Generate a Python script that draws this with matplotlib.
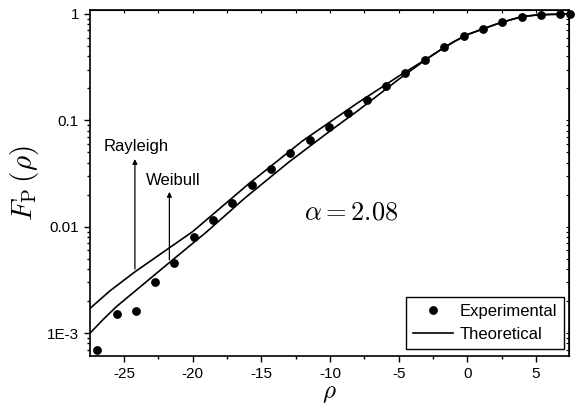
import matplotlib
matplotlib.use("Agg")
import matplotlib.pyplot as plt
from matplotlib.ticker import FixedLocator, LogLocator, FuncFormatter, MultipleLocator, NullFormatter

plt.rcParams['font.family'] = ['Liberation Sans', 'DejaVu Sans']
plt.rcParams['mathtext.fontset'] = 'cm'
plt.rcParams['axes.unicode_minus'] = False

# experimental points
rho_exp = [-26.94, -25.53, -24.12, -22.74, -21.34, -19.93, -18.52, -17.12, -15.69, -14.3,
           -12.9, -11.49, -10.08, -8.68, -7.27, -5.89, -4.51, -3.1, -1.67, -0.27,
           1.13, 2.54, 3.96, 5.39, 6.77, 7.46]
fp_exp = [7.0e-4, 1.51e-3, 1.60e-3, 3.0e-3, 4.58e-3, 8.1e-3, 0.0117, 0.0168, 0.0247, 0.0351,
          0.049, 0.0653, 0.0871, 0.1165, 0.156, 0.210, 0.277, 0.369, 0.486, 0.621,
          0.723, 0.841, 0.944, 0.98, 0.993, 1.0]

# theoretical curves (Rayleigh upper, Weibull lower)
rho_ray = [-27.47, -26, -24.2, -20, -16, -12, -8, -5, -3, -2, -1, 0, 1, 2, 3, 4, 5, 6, 7.4]
fp_ray = [1.71e-3, 2.51e-3, 3.77e-3, 9.0e-3, 0.0248, 0.0641, 0.1455, 0.260, 0.376, 0.456,
          0.547, 0.640, 0.713, 0.794, 0.871, 0.946, 0.977, 0.991, 0.998]
rho_wei = [-27.47, -26.5, -25.56, -22, -19, -16.2, -13, -10, -8, -5, -3, -2, -1, 0, 1, 2,
           3, 4, 5, 6, 7.4]
fp_wei = [1.0e-3, 1.35e-3, 1.77e-3, 4.27e-3, 8.91e-3, 0.0186, 0.0405, 0.0794, 0.1225, 0.243,
          0.374, 0.456, 0.547, 0.640, 0.713, 0.794, 0.871, 0.946, 0.977, 0.991, 0.998]

ytick_vals = [1e-3, 1e-2, 1e-1, 1]
ytick_labels = ['1E-3', '0.01', '0.1', '1']

fig = plt.figure(figsize=(5.78, 4.12), dpi=100)
ax = fig.add_axes([0.1557, 0.1359, 0.8287, 0.8398])

ax.plot(rho_exp, fp_exp, 'o', color='black', markersize=5.3, clip_on=False,
        label='Experimental', zorder=3)
ax.plot(rho_ray, fp_ray, '-', color='black', lw=1.2, label='Theoretical')
ax.plot(rho_wei, fp_wei, '-', color='black', lw=1.2)

ax.set_yscale('log')
ax.set_xlim(-27.47, 7.4)
ax.set_ylim(6.1e-4, 1.09)

ax.xaxis.set_major_locator(MultipleLocator(5))
ax.xaxis.set_minor_locator(MultipleLocator(2.5))
ax.yaxis.set_major_locator(FixedLocator(ytick_vals))
ax.yaxis.set_major_formatter(FuncFormatter(lambda v, p: dict(zip(ytick_vals, ytick_labels)).get(v, '')))
ax.yaxis.set_minor_locator(LogLocator(base=10, subs=range(2, 10)))
ax.yaxis.set_minor_formatter(NullFormatter())

ax.tick_params(which='both', direction='out', labelsize=11, width=1.0)
ax.tick_params(which='major', length=4.5)
ax.tick_params(which='minor', length=2.5)
for s in ax.spines.values():
    s.set_linewidth(1.2)

# small inward ticks on top and right
axt = ax.secondary_xaxis('top')
axt.xaxis.set_major_locator(MultipleLocator(5))
axt.xaxis.set_minor_locator(MultipleLocator(2.5))
axt.tick_params(which='both', direction='in', length=2, width=0.8, labeltop=False)
axr = ax.secondary_yaxis('right')
axr.yaxis.set_major_locator(FixedLocator(ytick_vals))
axr.yaxis.set_minor_locator(LogLocator(base=10, subs=range(2, 10)))
axr.yaxis.set_minor_formatter(NullFormatter())
axr.tick_params(which='both', direction='in', length=2, width=0.8, labelright=False)

ax.set_xlabel(r'$\rho$', fontsize=18, labelpad=0)
ax.set_ylabel(r'$F_{\mathrm{P}}\,(\rho)$', fontsize=21, labelpad=4)

ax.annotate('', xy=(-24.2, 0.046), xytext=(-24.2, 3.77e-3),
            arrowprops=dict(arrowstyle='-|>', color='black', lw=0.9, mutation_scale=7))
ax.text(-26.5, 0.0574, 'Rayleigh', fontsize=12, ha='left', va='center')
ax.annotate('', xy=(-21.69, 0.0226), xytext=(-21.69, 4.6e-3),
            arrowprops=dict(arrowstyle='-|>', color='black', lw=0.9, mutation_scale=7))
ax.text(-23.4, 0.0275, 'Weibull', fontsize=12, ha='left', va='center')

ax.text(-8.49, 0.0137, r'$\alpha = 2.08$', fontsize=19, ha='center', va='center')

leg = ax.legend(loc='lower right', fontsize=12, frameon=True, fancybox=False,
                edgecolor='black', framealpha=1, handlelength=2.4, handletextpad=0.35,
                borderpad=0.45, labelspacing=0.45, borderaxespad=0,
                bbox_to_anchor=(0.99, 0.02))
leg.get_frame().set_linewidth(1.0)

fig.savefig('out.png', dpi=100)
